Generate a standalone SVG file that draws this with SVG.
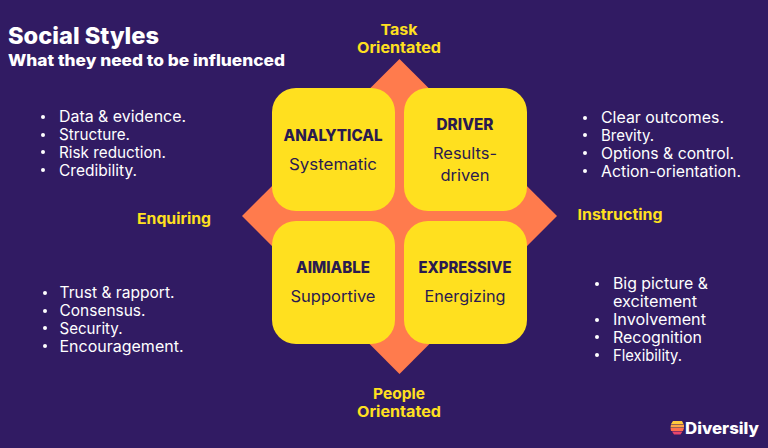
<svg xmlns="http://www.w3.org/2000/svg" width="768" height="448" viewBox="0 0 768 448">
<defs><style>
text{font-family:"Inter","Noto Sans","Liberation Sans",sans-serif}
.b{fill:#fff;font-size:15.5px;font-weight:400}
.h{fill:#ffe01f;font-size:15px;font-weight:700;text-anchor:middle}
.t{fill:#2a1a50;font-size:15.5px;font-weight:800;text-anchor:middle}
.s{fill:#2a1a50;font-size:15.5px;font-weight:400;text-anchor:middle}
.c{fill:#ffe01f}
</style></defs>
<rect width="768" height="448" fill="#311b63"/>
<g id="title">
<text x="8" y="44" fill="#fff" font-size="23" font-weight="800" textLength="151" lengthAdjust="spacingAndGlyphs">Social Styles</text>
<text x="8" y="66" fill="#fff" font-size="16" font-weight="800" textLength="277" lengthAdjust="spacingAndGlyphs">What they need to be influenced</text>
</g>
<g id="diamond"><polygon points="399.500,59 557,216 399.500,374 242,216" fill="#ff7b4d"/></g>
<g id="analytical"><rect class="c" x="272" y="88" width="123" height="123" rx="24"/>
<text class="t" x="333" y="140.500" textLength="99" lengthAdjust="spacingAndGlyphs">ANALYTICAL</text>
<text class="s" x="333" y="170" textLength="88" lengthAdjust="spacingAndGlyphs">Systematic</text></g>
<g id="driver"><rect class="c" x="404" y="88" width="123" height="123" rx="24"/>
<text class="t" x="465" y="129.500" textLength="57" lengthAdjust="spacingAndGlyphs">DRIVER</text>
<text class="s" x="465" y="159" textLength="64" lengthAdjust="spacingAndGlyphs">Results-</text>
<text class="s" x="465" y="180.500" textLength="49" lengthAdjust="spacingAndGlyphs">driven</text></g>
<g id="aimiable"><rect class="c" x="272" y="221" width="123" height="123" rx="24"/>
<text class="t" x="333" y="273" textLength="74" lengthAdjust="spacingAndGlyphs">AIMIABLE</text>
<text class="s" x="333" y="302" textLength="85" lengthAdjust="spacingAndGlyphs">Supportive</text></g>
<g id="expressive"><rect class="c" x="404" y="221" width="123" height="123" rx="24"/>
<text class="t" x="465" y="273" textLength="93" lengthAdjust="spacingAndGlyphs">EXPRESSIVE</text>
<text class="s" x="465" y="302" textLength="81" lengthAdjust="spacingAndGlyphs">Energizing</text></g>
<g id="axis-labels">
<text class="h" x="399" y="35" textLength="37" lengthAdjust="spacingAndGlyphs">Task</text>
<text class="h" x="399" y="53" textLength="84" lengthAdjust="spacingAndGlyphs">Orientated</text>
<text class="h" x="399" y="398.500" textLength="52" lengthAdjust="spacingAndGlyphs">People</text>
<text class="h" x="399" y="416.500" textLength="84" lengthAdjust="spacingAndGlyphs">Orientated</text>
<text class="h" x="174" y="224" textLength="74" lengthAdjust="spacingAndGlyphs">Enquiring</text>
<text class="h" x="620" y="220" textLength="85" lengthAdjust="spacingAndGlyphs">Instructing</text>
</g>
<g id="list-analytical">
<circle cx="43" cy="117" r="2" fill="#fff"/><text class="b" x="59" y="122" textLength="127" lengthAdjust="spacingAndGlyphs">Data &amp; evidence.</text>
<circle cx="43" cy="135" r="2" fill="#fff"/><text class="b" x="59" y="140" textLength="71" lengthAdjust="spacingAndGlyphs">Structure.</text>
<circle cx="43" cy="152" r="2" fill="#fff"/><text class="b" x="59" y="158" textLength="107" lengthAdjust="spacingAndGlyphs">Risk reduction.</text>
<circle cx="43" cy="170" r="2" fill="#fff"/><text class="b" x="59" y="176" textLength="78" lengthAdjust="spacingAndGlyphs">Credibility.</text>
</g>
<g id="list-driver">
<circle cx="585" cy="118" r="2" fill="#fff"/><text class="b" x="601" y="123" textLength="123" lengthAdjust="spacingAndGlyphs">Clear outcomes.</text>
<circle cx="585" cy="135" r="2" fill="#fff"/><text class="b" x="601" y="141" textLength="53" lengthAdjust="spacingAndGlyphs">Brevity.</text>
<circle cx="585" cy="153" r="2" fill="#fff"/><text class="b" x="601" y="159" textLength="133" lengthAdjust="spacingAndGlyphs">Options &amp; control.</text>
<circle cx="585" cy="171" r="2" fill="#fff"/><text class="b" x="601" y="177" textLength="140" lengthAdjust="spacingAndGlyphs">Action-orientation.</text>
</g>
<g id="list-aimiable">
<circle cx="45" cy="293" r="2" fill="#fff"/><text class="b" x="59.500" y="298" textLength="115" lengthAdjust="spacingAndGlyphs">Trust &amp; rapport.</text>
<circle cx="45" cy="311" r="2" fill="#fff"/><text class="b" x="59.500" y="316" textLength="86" lengthAdjust="spacingAndGlyphs">Consensus.</text>
<circle cx="45" cy="328" r="2" fill="#fff"/><text class="b" x="59.500" y="334" textLength="63" lengthAdjust="spacingAndGlyphs">Security.</text>
<circle cx="45" cy="346" r="2" fill="#fff"/><text class="b" x="59.500" y="352" textLength="124" lengthAdjust="spacingAndGlyphs">Encouragement.</text>
</g>
<g id="list-expressive">
<circle cx="597" cy="284" r="2" fill="#fff"/><text class="b" x="613" y="289" textLength="95" lengthAdjust="spacingAndGlyphs">Big picture &amp;</text>
<text class="b" x="613" y="307" textLength="84" lengthAdjust="spacingAndGlyphs">excitement</text>
<circle cx="597" cy="320" r="2" fill="#fff"/><text class="b" x="613" y="325" textLength="93" lengthAdjust="spacingAndGlyphs">Involvement</text>
<circle cx="597" cy="337" r="2" fill="#fff"/><text class="b" x="613" y="343" textLength="89" lengthAdjust="spacingAndGlyphs">Recognition</text>
<circle cx="597" cy="355" r="2" fill="#fff"/><text class="b" x="613" y="361" textLength="69" lengthAdjust="spacingAndGlyphs">Flexibility.</text>
</g>
<g id="logo">
<path d="M673 421h9l1.500 3h-12.500z" fill="#ffc93c"/><path d="M671 424.500h13v3h-13.500z" fill="#ffa545"/><path d="M670.500 428h13.500l-1 3h-12z" fill="#ff6f4d"/><path d="M672 431.500h10.500l-2 3h-6.500z" fill="#e8456b"/>
<text x="685" y="434" fill="#fff" font-size="16" font-weight="800" textLength="74" lengthAdjust="spacingAndGlyphs">Diversily</text>
</g>
</svg>
